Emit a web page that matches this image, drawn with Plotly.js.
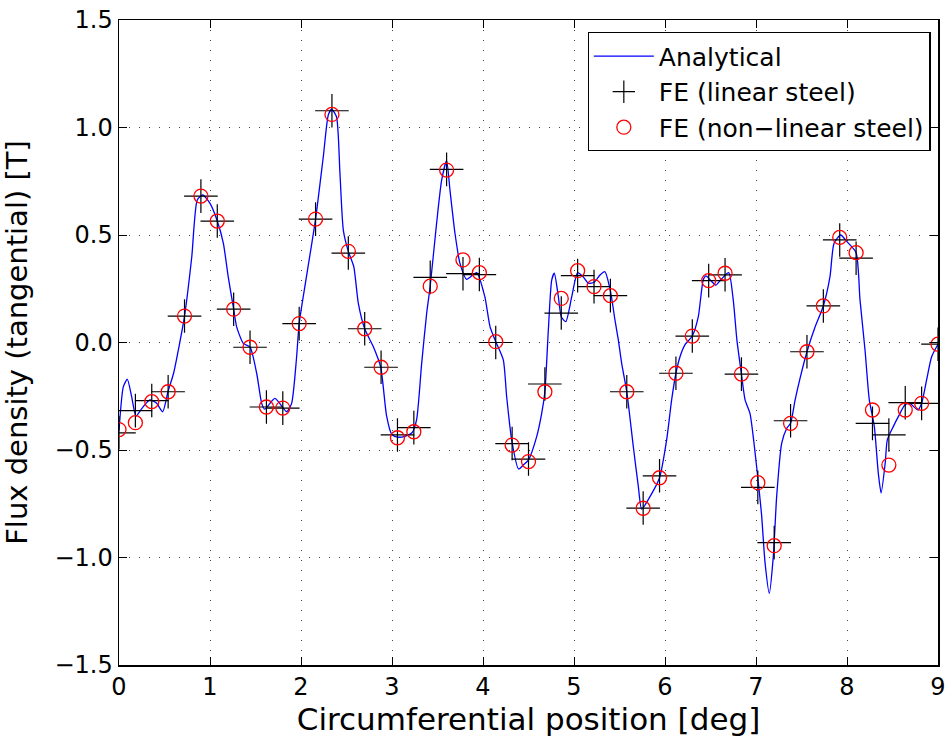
<!DOCTYPE html>
<html><head><meta charset="utf-8">
<script src="https://cdn.plot.ly/plotly-3.0.1.min.js"></script>
<style>html,body{margin:0;padding:0;background:#fff}#chart{width:950px;height:747px}</style>
</head><body><div id="chart"></div>
<script>
// Analytical curve
var anaX = [0, 0.048, 0.092, 0.139, 0.187, 0.267, 0.34, 0.414, 0.48, 0.538, 0.60, 0.652, 0.72, 0.80, 0.86, 0.92, 1.0, 1.08, 1.147, 1.2, 1.26, 1.293, 1.366, 1.44, 1.513, 1.568, 1.60, 1.714, 1.843, 1.897, 1.952, 1.98, 2.06, 2.16, 2.245, 2.30, 2.337, 2.39, 2.428, 2.465, 2.52, 2.58, 2.63, 2.70, 2.795, 2.876, 2.94, 2.996, 3.06, 3.15, 3.22, 3.27, 3.326, 3.381, 3.42, 3.49, 3.546, 3.60, 3.637, 3.692, 3.747, 3.82, 3.93, 4.02, 4.077, 4.14, 4.223, 4.26, 4.315, 4.39, 4.443, 4.50, 4.59, 4.645, 4.68, 4.718, 4.755, 4.784, 4.828, 4.86, 4.91, 4.975, 5.04, 5.10, 5.16, 5.22, 5.286, 5.34, 5.40, 5.45, 5.487, 5.524, 5.58, 5.652, 5.707, 5.744, 5.835, 5.94, 6.018, 6.073, 6.12, 6.165, 6.22, 6.30, 6.366, 6.42, 6.45, 6.50, 6.56, 6.62, 6.70, 6.75, 6.79, 6.84, 6.88, 6.934, 7.007, 7.06, 7.10, 7.146, 7.19, 7.227, 7.282, 7.337, 7.38, 7.43, 7.48, 7.56, 7.65, 7.74, 7.813, 7.857, 7.93, 8.0, 8.10, 8.143, 8.198, 8.245, 8.30, 8.344, 8.375, 8.42, 8.443, 8.51, 8.564, 8.637, 8.69, 8.78, 8.82, 8.875, 8.93, 9.0];
var anaY = [-0.41, -0.205, -0.171, -0.252, -0.342, -0.298, -0.267, -0.283, -0.322, -0.229, -0.143, -0.035, 0.123, 0.40, 0.663, 0.686, 0.647, 0.565, 0.461, 0.306, 0.155, 0.073, -0.004, -0.022, -0.143, -0.283, -0.31, -0.26, -0.322, -0.283, -0.066, 0.089, 0.306, 0.574, 0.864, 1.058, 1.085, 1.05, 0.787, 0.523, 0.424, 0.353, 0.182, 0.064, -0.02, -0.115, -0.34, -0.426, -0.44, -0.435, -0.42, -0.36, -0.097, 0.136, 0.263, 0.554, 0.756, 0.846, 0.709, 0.508, 0.368, 0.294, 0.325, 0.213, 0.074, 0.004, -0.081, -0.252, -0.453, -0.588, -0.57, -0.546, -0.438, -0.33, -0.229, 0.058, 0.29, 0.322, 0.213, 0.12, 0.097, 0.213, 0.325, 0.306, 0.275, 0.28, 0.314, 0.329, 0.24, 0.105, 0.012, -0.097, -0.229, -0.485, -0.67, -0.775, -0.717, -0.629, -0.453, -0.267, -0.143, -0.066, -0.01, 0.03, 0.12, 0.291, 0.31, 0.29, 0.267, 0.295, 0.325, 0.198, 0.012, -0.147, -0.267, -0.33, -0.578, -0.795, -1.027, -1.167, -0.996, -0.717, -0.469, -0.40, -0.376, -0.267, -0.174, -0.043, 0.073, 0.17, 0.306, 0.461, 0.50, 0.469, 0.418, 0.198, -0.035, -0.267, -0.39, -0.608, -0.70, -0.56, -0.453, -0.39, -0.345, -0.29, -0.283, -0.314, -0.283, -0.174, -0.066, -0.008];

// FE sample positions (deg)
var feX = [0.00, 0.18, 0.36, 0.54, 0.72, 0.90, 1.08, 1.26, 1.44, 1.62, 1.80, 1.98, 2.16, 2.34, 2.52, 2.70, 2.88, 3.06, 3.24, 3.42, 3.60, 3.78, 3.96, 4.14, 4.32, 4.50, 4.68, 4.86, 5.04, 5.22, 5.40, 5.58, 5.76, 5.94, 6.12, 6.30, 6.48, 6.66, 6.84, 7.02, 7.20, 7.38, 7.56, 7.74, 7.92, 8.10, 8.28, 8.46, 8.64, 8.82, 9.00];
// FE (linear steel)
var feLinY = [-0.42, -0.317, -0.27, -0.229, 0.123, 0.681, 0.565, 0.155, -0.022, -0.30, -0.305, 0.088, 0.574, 1.078, 0.416, 0.064, -0.115, -0.43, -0.396, 0.303, 0.805, 0.32, 0.316, 0.0, -0.47, -0.542, -0.193, 0.137, 0.311, 0.26, 0.218, -0.229, -0.77, -0.62, -0.143, 0.030, 0.288, 0.315, -0.147, -0.674, -0.931, -0.364, -0.043, 0.17, 0.477, 0.392, -0.376, -0.43, -0.28, -0.283, -0.008];
// FE (non-linear steel)
var feNonY = [-0.405, -0.373, -0.275, -0.229, 0.123, 0.681, 0.565, 0.155, -0.022, -0.30, -0.305, 0.088, 0.574, 1.061, 0.424, 0.064, -0.115, -0.443, -0.415, 0.262, 0.802, 0.384, 0.325, 0.004, -0.477, -0.554, -0.229, 0.205, 0.334, 0.26, 0.218, -0.229, -0.771, -0.629, -0.143, 0.030, 0.288, 0.322, -0.147, -0.652, -0.945, -0.376, -0.043, 0.17, 0.489, 0.418, -0.314, -0.57, -0.314, -0.283, -0.008];

var xTicks = [0,1,2,3,4,5,6,7,8,9];
var yTicks = [-1.5,-1.0,-0.5,0.0,0.5,1.0,1.5];
var yTickText = ['\u22121.5','\u22121.0','\u22120.5','0.0','0.5','1.0','1.5'];

var traces = [
  {x: anaX, y: anaY, type:'scatter', mode:'lines', name:'Analytical',
   line:{color:'#0000ff', width:1.3, shape:'spline', smoothing:0.6}},
  {x: feX, y: feLinY, type:'scatter', mode:'markers', name:'FE (linear steel)',
   marker:{symbol:'cross-thin-open', size:24, color:'#000', line:{color:'#000', width:1.2}}},
  {x: feX, y: feNonY, type:'scatter', mode:'markers', name:'FE (non\u2212linear steel)',
   marker:{symbol:'circle-open', size:14, color:'#ff0000', line:{color:'#ff0000', width:1.3}}}
];

var fam = 'DejaVu Sans, Liberation Sans, Arial, sans-serif';

var layout = {
  width:950, height:747,
  margin:{l:119, r:12, t:20, b:82},
  paper_bgcolor:'#fff', plot_bgcolor:'#fff',
  showlegend:true,
  legend:{x:0.991, y:0.981, xanchor:'right', yanchor:'top', bgcolor:'#fff',
          bordercolor:'#000', borderwidth:1.2, font:{family:fam, size:25, color:'#000'},
          tracegroupgap:0, itemwidth:60},
  xaxis:{range:[0,9], tickvals:xTicks, ticktext:xTicks.map(String), showgrid:true,
         gridcolor:'#444', griddash:'1px,9px', gridwidth:1,
         showline:true, linecolor:'#000', linewidth:1.5, mirror:'allticks',
         ticks:'inside', ticklen:8, tickcolor:'#000', tickwidth:1,
         zeroline:false, tickfont:{family:fam, size:24, color:'#000'},
         title:{text:'Circumferential position [deg]', font:{family:fam, size:31, color:'#000'}, standoff:4},
         automargin:false},
  yaxis:{range:[-1.5,1.5], tickvals:yTicks, ticktext:yTickText, showgrid:true,
         gridcolor:'#444', griddash:'1px,9px', gridwidth:1,
         showline:true, linecolor:'#000', linewidth:1.5, mirror:'allticks',
         ticks:'inside', ticklen:8, tickcolor:'#000', tickwidth:1,
         zeroline:false, tickfont:{family:fam, size:24, color:'#000'},
         title:{text:'Flux density (tangential) [T]', font:{family:fam, size:29, color:'#000'}, standoff:20},
         automargin:false}
};
Plotly.newPlot('chart', traces, layout, {displayModeBar:false, staticPlot:true});
</script></body></html>
